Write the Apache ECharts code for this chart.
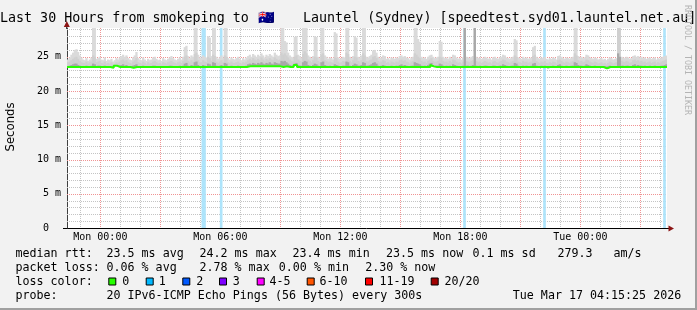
<!DOCTYPE html>
<html><head><meta charset="utf-8">
<script src="https://cdn.jsdelivr.net/npm/echarts@6/dist/echarts.min.js"></script>
<style>html,body{margin:0;padding:0;background:#f2f2f2;}#c{width:697px;height:310px;}</style>
</head><body><div id="c"></div>
<script>
// ---------------- DATA ----------------
const titleParts = ['Last 30 Hours from smokeping to ', '🇦🇺', ' Launtel (Sydney) [speedtest.syd01.launtel.net.au]'];
const yAxisName = 'Seconds';
const watermark = 'RRDTOOL / TOBI OETIKER';
// x values are minutes relative to Mon 00:00
const xMinMinute = -100, xMaxMinute = 1700, stepMinutes = 5;
const xTickMinutes = [0, 360, 720, 1080, 1440];
const xTickLabels = ['Mon 00:00', 'Mon 06:00', 'Mon 12:00', 'Mon 18:00', 'Tue 00:00'];
const xMajorGridMinutes = [0, 180, 360, 540, 720, 900, 1080, 1260, 1440, 1620];
const xMinorGridMinutes = [-60, 60, 120, 240, 300, 420, 480, 600, 660, 780, 840, 960, 1020, 1140, 1200, 1320, 1380, 1500, 1560, 1680];
const yMaxMs = 29.2;
const yMajorGrid = [5, 10, 15, 20, 25];
const yMinorGrid = [1, 2, 3, 4, 6, 7, 8, 9, 11, 12, 13, 14, 16, 17, 18, 19, 21, 22, 23, 24, 26, 27, 28, 29];

// median rtt per 5-minute step (ms)
const medianMs = [
23.5,23.5,23.5,23.5,23.5,23.5,23.5,23.5,23.5,23.5,23.5,23.5,23.5,23.5,23.5,23.5,23.5,23.5,23.5,23.5,
23.5,23.5,23.5,23.5,23.5,23.5,23.5,23.4,23.7,23.7,23.5,23.5,23.5,23.5,23.5,23.5,23.5,23.5,23.5,23.4,
23.4,23.5,23.5,23.5,23.5,23.5,23.5,23.5,23.5,23.5,23.5,23.5,23.5,23.5,23.5,23.5,23.5,23.5,23.5,23.5,
23.5,23.5,23.5,23.5,23.5,23.5,23.5,23.5,23.5,23.5,23.5,23.5,23.5,23.5,23.5,23.5,23.5,23.5,23.5,23.5,
23.5,23.5,23.5,23.5,23.5,23.5,23.5,23.5,23.5,23.5,23.5,23.5,23.5,23.5,23.5,23.5,23.5,23.5,23.5,23.5,
23.5,23.5,23.5,23.5,23.5,23.5,23.5,23.5,23.6,23.6,23.6,23.6,23.6,23.6,23.6,23.6,23.6,23.6,23.6,23.6,
23.6,23.6,23.6,23.6,23.6,23.6,23.6,23.6,23.5,23.5,23.5,23.6,23.5,23.5,23.5,23.5,23.8,23.8,23.5,23.5,
23.5,23.5,23.5,23.5,23.5,23.5,23.5,23.5,23.5,23.5,23.5,23.5,23.5,23.5,23.5,23.5,23.5,23.5,23.5,23.5,
23.5,23.5,23.5,23.5,23.5,23.5,23.5,23.5,23.5,23.5,23.5,23.5,23.5,23.5,23.5,23.5,23.5,23.5,23.5,23.5,
23.5,23.5,23.5,23.5,23.5,23.5,23.5,23.5,23.5,23.5,23.5,23.5,23.5,23.5,23.5,23.5,23.5,23.5,23.5,23.5,
23.5,23.5,23.5,23.5,23.5,23.5,23.5,23.5,23.5,23.5,23.5,23.5,23.5,23.5,23.5,23.5,23.5,23.5,23.8,23.6,
23.5,23.5,23.5,23.5,23.5,23.5,23.5,23.5,23.5,23.5,23.5,23.5,23.5,23.5,23.5,23.5,23.5,23.5,23.5,23.5,
23.5,23.5,23.5,23.5,23.5,23.5,23.5,23.5,23.5,23.5,23.5,23.5,23.5,23.5,23.5,23.5,23.5,23.5,23.5,23.5,
23.5,23.5,23.5,23.5,23.5,23.5,23.5,23.5,23.5,23.5,23.5,23.5,23.5,23.5,23.5,23.5,23.5,23.5,23.5,23.5,
23.5,23.5,23.5,23.5,23.5,23.5,23.5,23.5,23.3,23.5,23.5,23.5,23.5,23.5,23.5,23.5,23.5,23.5,23.5,23.5,
23.5,23.5,23.5,23.5,23.5,23.5,23.5,23.5,23.5,23.5,23.5,23.5,23.5,23.5,23.5,23.5,23.5,23.5,23.5,23.5,
23.5,23.5,23.5,23.3,23.3,23.5,23.5,23.5,23.4,23.5,23.5,23.5,23.5,23.5,23.5,23.5,23.5,23.5,23.5,23.5,
23.5,23.5,23.5,23.5,23.5,23.5,23.5,23.5,23.5,23.5,23.5,23.5,23.5,23.5,23.5,23.5,23.5,23.5,23.5,23.5
];
// darker smoke (upper quartile) per step (ms)
const smokeCoreMs = [
23.6,23.7,23.8,23.9,24.0,24.0,23.8,23.7,23.6,23.6,23.6,23.7,23.6,23.6,23.7,24.0,23.9,23.6,23.7,23.7,
23.6,23.6,23.7,23.6,23.6,23.6,23.6,23.6,23.6,23.7,23.6,23.7,23.8,23.9,23.7,23.8,23.6,23.6,23.6,23.7,
23.8,23.9,23.6,23.6,23.6,23.7,23.6,23.6,23.6,23.6,23.6,23.7,23.7,23.6,23.6,23.6,23.6,23.6,23.6,23.6,
23.6,23.7,23.7,23.6,23.6,23.6,23.6,23.7,23.6,23.7,24.0,24.1,23.7,23.6,23.8,23.7,24.2,24.3,23.8,23.6,
23.6,23.8,23.7,23.6,24.0,23.9,23.7,24.2,24.1,23.7,23.6,23.7,23.8,23.6,24.1,24.0,23.6,23.6,23.7,23.6,
23.6,23.6,23.7,23.6,23.6,23.6,23.6,23.7,23.9,24.0,23.9,24.1,24.0,23.9,24.1,24.0,24.2,24.0,23.9,24.1,
24.0,24.2,24.0,23.9,24.2,24.1,24.0,24.0,24.4,24.3,24.4,24.2,24.0,23.8,23.7,23.7,24.0,24.1,23.8,23.7,
23.7,24.2,24.4,24.3,23.8,23.7,23.6,23.8,24.0,23.9,23.7,23.6,24.2,24.3,23.8,23.7,23.6,23.7,23.6,23.6,
23.9,23.8,23.7,23.6,23.6,23.7,23.7,24.3,24.2,23.7,23.6,23.8,24.0,23.9,23.7,23.7,23.8,24.2,24.1,23.7,
23.7,23.8,23.9,24.1,24.2,24.0,23.7,23.6,23.7,23.8,23.7,23.6,23.6,23.6,23.7,23.6,23.6,23.7,23.6,23.8,
23.9,23.7,23.8,23.7,23.6,23.6,23.7,23.7,24.2,24.1,24.0,23.9,23.7,23.6,23.7,23.6,23.8,24.0,24.1,23.8,
23.6,23.7,23.7,24.0,23.9,23.7,23.6,23.7,23.6,23.7,23.6,23.9,23.8,23.7,23.6,23.6,23.6,23.7,29.8,23.7,
23.7,23.6,23.7,23.8,29.8,23.7,23.6,23.7,23.6,23.6,23.7,23.7,23.6,23.6,23.6,23.7,23.7,23.6,23.6,23.7,
23.7,23.9,23.8,23.7,23.6,23.6,23.7,23.7,24.1,24.0,23.7,23.6,23.6,23.7,23.6,23.7,23.6,23.6,23.7,24.0,
24.1,23.7,23.6,23.6,23.7,23.6,23.7,23.6,23.6,23.6,23.6,23.7,23.6,23.6,23.8,23.9,23.7,23.6,23.6,23.7,
23.6,23.6,23.7,23.7,24.2,24.1,23.8,23.7,23.7,23.6,23.7,23.9,23.8,23.7,23.6,23.6,23.7,23.6,23.6,23.6,
23.6,23.6,23.6,23.6,23.6,23.7,23.6,23.6,23.6,23.6,25.5,25.0,23.7,23.7,23.6,23.7,23.7,23.6,23.6,23.8,
23.9,23.7,23.8,23.7,23.7,23.6,23.7,23.6,23.6,23.7,23.6,23.6,23.7,23.6,23.6,23.6,23.7,23.7,23.8,23.9
];
// medium smoke (90th percentile) per step (ms)
const smokeMidMs = [
24.2,24.3,24.5,24.7,24.9,25.0,24.7,24.4,24.2,24.1,24.1,24.3,24.0,24.2,24.3,25.2,25.0,24.2,24.3,24.4,
24.1,24.0,24.3,24.0,24.1,24.0,24.2,23.9,24.0,24.2,24.1,24.3,24.5,24.6,24.4,24.5,24.2,24.1,24.0,24.3,
24.5,24.8,24.2,24.1,24.0,24.3,24.1,23.9,24.2,24.0,24.1,24.3,24.4,24.2,24.0,24.1,23.9,24.2,24.1,24.0,
24.2,24.3,24.4,24.2,24.1,24.0,24.2,24.3,24.1,24.4,25.0,25.2,24.4,24.2,24.5,24.3,25.4,25.6,24.5,24.2,
24.2,24.5,24.3,24.2,25.0,24.8,24.4,25.3,25.1,24.3,24.1,24.3,24.5,24.2,25.2,25.0,24.2,24.1,24.3,24.1,
24.1,24.2,24.3,24.1,24.0,24.2,24.1,24.3,24.5,24.7,24.5,24.8,24.6,24.5,24.7,24.5,24.9,24.6,24.4,24.7,
24.5,24.8,24.6,24.5,24.9,24.7,24.5,24.6,25.6,25.3,25.5,25.2,24.9,24.6,24.4,24.3,25.0,25.2,24.6,24.4,
24.3,25.4,25.8,25.5,24.6,24.4,24.2,24.5,25.0,24.9,24.4,24.2,25.3,25.5,24.5,24.4,24.2,24.3,24.2,24.1,
24.9,24.8,24.3,24.1,24.2,24.4,24.3,25.6,25.4,24.4,24.2,24.5,25.0,24.9,24.4,24.3,24.5,25.5,25.2,24.4,
24.3,24.5,24.6,25.0,25.1,24.8,24.4,24.2,24.3,24.5,24.4,24.1,24.2,24.0,24.3,24.2,24.1,24.3,24.2,24.5,
24.6,24.4,24.5,24.3,24.2,24.0,24.3,24.4,25.5,25.3,25.0,24.8,24.4,24.2,24.3,24.1,24.4,24.6,24.8,24.4,
24.2,24.3,24.4,25.0,24.9,24.4,24.2,24.3,24.1,24.4,24.2,24.6,24.5,24.3,24.1,24.2,24.0,24.3,29.8,24.4,
24.3,24.2,24.4,24.5,29.8,24.4,24.2,24.3,24.1,24.2,24.4,24.3,24.1,24.2,24.0,24.3,24.4,24.2,24.1,24.3,
24.4,24.6,24.5,24.3,24.2,24.1,24.3,24.4,25.2,25.0,24.3,24.2,24.1,24.4,24.2,24.3,24.1,24.2,24.3,25.1,
25.3,24.4,24.2,24.1,24.3,24.2,24.4,24.1,24.0,24.2,24.1,24.3,24.2,24.0,24.5,24.6,24.4,24.2,24.1,24.3,
24.2,24.1,24.3,24.4,25.5,25.2,24.5,24.3,24.4,24.2,24.3,24.6,24.5,24.3,24.2,24.1,24.3,24.2,24.0,24.1,
24.2,24.0,24.1,23.9,24.1,24.3,24.2,24.0,24.1,24.2,29.8,29.8,24.4,24.3,24.2,24.4,24.3,24.1,24.2,24.5,
24.6,24.4,24.5,24.3,24.4,24.2,24.3,24.1,24.2,24.3,24.1,24.2,24.3,24.0,24.2,24.1,24.3,24.4,24.5,24.6
];
// highest ping per step (ms)
const smokeMaxMs = [
24.6,24.9,25.3,25.6,26.0,26.1,25.7,25.2,24.9,24.6,24.5,24.8,24.4,24.6,24.9,29.8,29.8,24.7,24.8,25.0,
24.6,24.5,24.9,24.4,24.6,24.5,24.7,24.3,24.5,24.8,24.6,24.9,25.1,25.3,25.0,25.2,24.8,24.6,24.5,24.9,
25.2,25.7,24.8,24.6,24.5,24.9,24.6,24.4,24.7,24.5,24.6,24.9,25.0,24.7,24.5,24.6,24.4,24.8,24.6,24.5,
24.7,24.9,25.1,24.8,24.6,24.5,24.7,24.9,24.6,25.0,26.4,26.6,25.1,24.8,25.2,25.0,29.8,29.8,25.3,24.9,
24.8,25.2,25.0,24.9,28.0,27.8,25.1,29.8,29.8,25.0,24.7,24.9,25.2,24.8,29.8,29.8,24.8,24.6,24.9,24.7,
24.6,24.8,25.0,24.7,24.5,24.8,24.6,24.9,25.1,25.3,25.0,25.4,25.2,25.0,25.3,25.1,25.5,25.2,24.9,25.3,
25.1,25.4,25.2,25.0,25.6,25.3,25.1,25.2,29.8,29.8,27.3,27.1,25.6,25.2,25.0,24.9,27.9,28.0,25.3,25.1,
24.9,29.8,29.8,29.8,25.2,25.0,24.8,25.1,28.0,27.9,25.0,24.8,29.8,29.8,25.2,25.0,24.7,24.9,24.8,24.6,
28.6,28.4,24.9,24.7,24.8,25.0,24.9,29.8,29.8,25.0,24.8,25.1,28.0,27.8,25.0,24.9,25.2,29.8,29.8,25.0,
24.9,25.1,25.3,25.9,26.0,25.6,25.0,24.8,24.9,25.2,25.1,24.7,24.8,24.6,24.9,24.8,24.7,24.9,24.8,25.1,
25.2,25.0,25.1,24.9,24.8,24.6,24.9,25.0,29.8,29.8,27.6,27.2,25.0,24.8,24.9,24.7,25.0,25.2,25.3,25.0,
24.8,24.9,25.0,27.3,27.2,25.0,24.8,24.9,24.7,25.0,24.8,25.3,25.2,24.9,24.7,24.8,24.6,24.9,29.8,25.0,
24.9,24.8,25.0,25.1,29.8,25.0,24.8,24.9,24.7,24.8,25.0,24.9,24.7,24.8,24.6,24.9,25.0,24.8,24.7,24.9,
25.0,25.3,25.2,24.9,24.8,24.7,24.9,25.0,27.6,27.4,24.9,24.8,24.7,25.0,24.8,24.9,24.7,24.8,24.9,26.4,
26.6,25.0,24.8,24.7,24.9,24.8,25.0,24.7,24.6,24.8,24.7,24.9,24.8,24.6,25.1,25.2,25.0,24.8,24.7,24.9,
24.8,24.7,24.9,25.0,29.8,29.8,25.1,24.9,25.0,24.8,24.9,25.3,25.2,24.9,24.8,24.7,24.9,24.8,24.6,24.7,
24.8,24.6,24.7,24.5,24.7,24.9,24.8,24.6,24.7,24.8,29.8,29.8,25.0,24.9,24.8,25.0,24.9,24.7,24.8,25.1,
25.2,25.0,25.1,24.9,25.0,24.8,24.9,24.7,24.8,24.9,24.7,24.8,24.9,24.6,24.8,24.7,24.9,25.0,25.1,25.2
];
// steps with lost pings and how many of 20 were lost
const lossSteps = [81, 82, 92, 238, 286, 358];
const lossCounts = [1, 1, 1, 1, 1, 1];

// legend texts
const rowLabels = ['median rtt:', 'packet loss:', 'loss color:', 'probe:'];
const rttStats = ['23.5 ms avg', '24.2 ms max', '23.4 ms min', '23.5 ms now', '0.1 ms sd', '279.3', 'am/s'];
const lossStats = ['0.06 % avg', '2.78 % max', '0.00 % min', '2.30 % now'];
const lossLegendLabels = ['0', '1', '2', '3', '4-5', '6-10', '11-19', '20/20'];
const lossLegendMax = [0, 1, 2, 3, 5, 10, 19, 20];
const probeText = '20 IPv6-ICMP Echo Pings (56 Bytes) every 300s';
const stampText = 'Tue Mar 17 04:15:25 2026';

// ---------------- STYLE / LAYOUT ----------------
const lossColors = ['#26ff00', '#00b8ff', '#0059ff', '#7e00ff', '#ff00ff', '#ff5500', '#ff0000', '#a10000'];
const lossBgColor = '#aee4fb';
const smokeColors = ['#dadada', '#d0d0d0', '#a8a8a8'];
const gridMinorColor = '#c4c4c4';
const gridMajorColor = '#f09494';
const arrowColor = '#8b1414';
const MONO = '"DejaVu Sans Mono", monospace';
const G = {left: 67, top: 28, width: 600, height: 200};
const rowY = [254, 268, 282, 296];
const statX = [106.5, 199.5, 292.5, 386, 472.5, 557.5, 613.5];
const lossStatX = [106.5, 199.5, 278.8, 365.2];
const boxX = [108.3, 145.7, 182.3, 219, 256.7, 306.7, 365, 430.7];
const boxLabelX = [122.2, 158.8, 196.2, 232.8, 269.5, 319.5, 379.5, 444.5];

function colorForLoss(n) {
  for (let k = 0; k < lossLegendMax.length; k++) if (n <= lossLegendMax[k]) return lossColors[k];
  return lossColors[lossColors.length - 1];
}

const stepData = medianMs.map((m, i) => [xMinMinute + i * stepMinutes, m, smokeCoreMs[i], smokeMidMs[i], smokeMaxMs[i]]);
const medianLine = medianMs.map((m, i) => [xMinMinute + i * stepMinutes, m]);
medianLine.push([xMaxMinute, medianMs[medianMs.length - 1]]);
const lossData = lossSteps.map((s, k) => [xMinMinute + s * stepMinutes, medianMs[s], lossCounts[k]]);

// dotted grid lines: one path of 1px dots per line
function vGrid(color) {
  return function (params, api) {
    const a = api.coord([api.value(0), 0]);
    const b = api.coord([api.value(0), yMaxMs]);
    const x = Math.round(a[0]);
    let d = '';
    for (let y = Math.round(b[1]); y < a[1]; y += 2) d += 'M' + x + ' ' + y + 'h1v1h-1Z';
    return {type: 'path', shape: {pathData: d}, style: {fill: color}};
  };
}
function hGrid(color) {
  return function (params, api) {
    const a = api.coord([xMinMinute, api.value(1)]);
    const b = api.coord([xMaxMinute, api.value(1)]);
    const y = Math.round(a[1]);
    let d = '';
    for (let x = Math.round(a[0]); x < b[0]; x += 2) d += 'M' + x + ' ' + y + 'h1v1h-1Z';
    return {type: 'path', shape: {pathData: d}, style: {fill: color}};
  };
}

function smokeLayer(layer) {
  // layer: 4 = max, 3 = mid, 2 = core
  const color = smokeColors[4 - layer];
  return function (params, api) {
    const t = api.value(0), med = api.value(1), top = api.value(layer);
    if (!(top > med)) return null;
    const a = api.coord([t, med]);
    const b = api.coord([t + stepMinutes, top]);
    return {type: 'rect', shape: {x: a[0], y: b[1], width: b[0] - a[0] + 0.6, height: a[1] - b[1]}, style: {fill: color}};
  };
}

function lossBgItem(params, api) {
  const t = api.value(0);
  const a = api.coord([t, 0]);
  const b = api.coord([t + stepMinutes, yMaxMs]);
  return {type: 'rect', shape: {x: a[0] - 0.5, y: b[1], width: b[0] - a[0] + 1, height: a[1] - b[1]}, style: {fill: lossBgColor}};
}
function lossLineItem(params, api) {
  const t = api.value(0), m = api.value(1), n = api.value(2);
  const a = api.coord([t, m]);
  const b = api.coord([t + stepMinutes, m]);
  return {type: 'line', shape: {x1: a[0] - 0.5, y1: a[1], x2: b[0] + 0.5, y2: b[1]}, style: {stroke: colorForLoss(n), lineWidth: 2}};
}

const graphics = [];
function txt(x, y, s, opt) {
  graphics.push({type: 'text', x, y, silent: true,
    style: Object.assign({text: s, fill: '#000', font: '11.66px ' + MONO, align: 'left', verticalAlign: 'middle'}, opt || {})});
}
// frame shading
graphics.push({type: 'rect', shape: {x: 695, y: 0, width: 2, height: 310}, style: {fill: '#a0a0a0'}, silent: true});
graphics.push({type: 'rect', shape: {x: 0, y: 308, width: 697, height: 2}, style: {fill: '#a0a0a0'}, silent: true});
// title
txt(0, 18.5, titleParts[0], {font: '13.33px ' + MONO});
txt(258, 18.5, titleParts[1], {font: '13.33px ' + MONO});
txt(295, 18.5, titleParts[2], {font: '13.33px ' + MONO});
// axis name + watermark
graphics.push({type: 'text', x: 11, y: 127, rotation: Math.PI / 2, silent: true,
  style: {text: yAxisName, fill: '#000', font: '11.66px "DejaVu Sans", sans-serif', align: 'center', verticalAlign: 'middle'}});
graphics.push({type: 'text', x: 687.5, y: 60, rotation: -Math.PI / 2, silent: true,
  style: {text: watermark, fill: '#b4b4b4', font: '8.3px ' + MONO, align: 'center', verticalAlign: 'middle'}});
// axis extensions and arrows
graphics.push({type: 'line', shape: {x1: 66.5, y1: 29, x2: 66.5, y2: 25}, style: {stroke: '#404040', lineWidth: 1}, silent: true});
graphics.push({type: 'polygon', shape: {points: [[66.8, 21], [63.8, 27], [69.8, 27]]}, style: {fill: arrowColor}, silent: true});
graphics.push({type: 'line', shape: {x1: 63, y1: 228.5, x2: 670, y2: 228.5}, style: {stroke: '#000', lineWidth: 1}, silent: true});
graphics.push({type: 'polygon', shape: {points: [[674, 228.5], [668.5, 225.5], [668.5, 231.5]]}, style: {fill: arrowColor}, silent: true});
// legend rows
rowLabels.forEach((s, r) => txt(15.5, rowY[r], s));
rttStats.forEach((s, k) => txt(statX[k], rowY[0], s));
lossStats.forEach((s, k) => txt(lossStatX[k], rowY[1], s));
lossLegendLabels.forEach((s, k) => {
  graphics.push({type: 'rect', silent: true, shape: {x: boxX[k] + 0.5, y: rowY[2] - 4, width: 7, height: 7},
    style: {fill: lossColors[k], stroke: '#000', lineWidth: 1}});
  txt(boxLabelX[k], rowY[2], s);
});
txt(106.5, rowY[3], probeText);
txt(512.8, rowY[3], stampText);

const chart = echarts.init(document.getElementById('c'));
chart.setOption({
  animation: false,
  backgroundColor: '#f2f2f2',
  grid: Object.assign({backgroundColor: '#ffffff', show: true, borderWidth: 0}, G),
  xAxis: {
    type: 'value', min: xMinMinute, max: xMaxMinute,
    splitLine: {show: false}, axisTick: {show: false},
    axisLine: {show: false},
    axisLabel: {customValues: xTickMinutes, margin: 4, fontFamily: MONO, fontSize: 10, color: '#000',
      formatter: v => xTickLabels[xTickMinutes.indexOf(v)] || ''}
  },
  yAxis: {
    type: 'value', min: 0, max: yMaxMs, interval: 5,
    splitLine: {show: false}, axisTick: {show: false},
    axisLine: {show: true, onZero: false, lineStyle: {color: '#404040', width: 1}},
    axisLabel: {margin: 6, fontFamily: MONO, fontSize: 10, color: '#000', showMaxLabel: false,
      formatter: v => (v === 0 ? '0  ' : (v % 5 === 0 ? v + ' m' : ''))}
  },
  series: [
    {type: 'custom', name: 'gridMinorX', silent: true, clip: true, renderItem: vGrid(gridMinorColor), data: xMinorGridMinutes.map(v => [v, 10])},
    {type: 'custom', name: 'gridMinorY', silent: true, clip: true, renderItem: hGrid(gridMinorColor), data: yMinorGrid.map(v => [0, v])},
    {type: 'custom', name: 'gridMajorX', silent: true, clip: true, renderItem: vGrid(gridMajorColor), data: xMajorGridMinutes.map(v => [v, 10])},
    {type: 'custom', name: 'gridMajorY', silent: true, clip: true, renderItem: hGrid(gridMajorColor), data: yMajorGrid.map(v => [0, v])},
    {type: 'custom', name: 'lossbg', silent: true, clip: true, renderItem: lossBgItem, data: lossData},
    {type: 'custom', name: 'smokeMax', silent: true, clip: true, renderItem: smokeLayer(4), data: stepData},
    {type: 'custom', name: 'smokeMid', silent: true, clip: true, renderItem: smokeLayer(3), data: stepData},
    {type: 'custom', name: 'smokeCore', silent: true, clip: true, renderItem: smokeLayer(2), data: stepData},
    {type: 'line', name: 'median', step: 'end', showSymbol: false, silent: true, data: medianLine,
      lineStyle: {color: lossColors[0], width: 2}},
    {type: 'custom', name: 'lossline', silent: true, clip: true, renderItem: lossLineItem, data: lossData}
  ],
  graphic: graphics
});
</script>
</body></html>
